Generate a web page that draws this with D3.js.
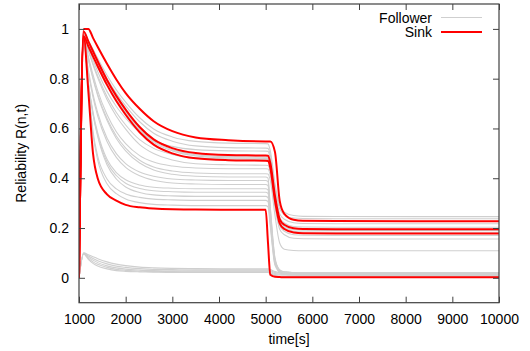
<!DOCTYPE html>
<html><head><meta charset="utf-8">
<script src="https://cdn.jsdelivr.net/npm/d3@7"></script>
<style>
body{margin:0;background:#fff}
svg{display:block}
text{font-family:"Liberation Sans",Arial,Helvetica,sans-serif;fill:#000}
</style>
</head><body>
<svg id="chart" width="530" height="351"></svg>
<script>
// time samples [s]
const times = [1000, 1100, 1200, 1300, 1400, 1600, 1800, 2000, 2300, 2600, 3000, 3500, 4200, 5000, 5050, 5100, 5200, 5300, 5400, 5600, 5800, 6500, 10000];
const xTickValues = [1000, 2000, 3000, 4000, 5000, 6000, 7000, 8000, 9000, 10000];
const yTickValues = [0, 0.2, 0.4, 0.6, 0.8, 1];
const legendLabels = ["Follower", "Sink"];

// Follower nodes (grey)
const followerSeries = [
  [0, 0.99, 0.954, 0.918, 0.882, 0.814, 0.755, 0.706, 0.643, 0.598, 0.566, 0.548, 0.541, 0.539, 0.538, 0.510, 0.378, 0.287, 0.264, 0.250, 0.247, 0.246, 0.246],
  [0, 0.98, 0.943, 0.907, 0.870, 0.801, 0.741, 0.691, 0.627, 0.581, 0.549, 0.530, 0.523, 0.521, 0.520, 0.493, 0.365, 0.277, 0.254, 0.240, 0.238, 0.237, 0.237],
  [0, 0.98, 0.928, 0.876, 0.829, 0.749, 0.688, 0.641, 0.584, 0.551, 0.528, 0.515, 0.510, 0.509, 0.508, 0.480, 0.348, 0.258, 0.235, 0.221, 0.218, 0.217, 0.217],
  [0, 0.98, 0.940, 0.901, 0.861, 0.787, 0.723, 0.668, 0.599, 0.549, 0.515, 0.495, 0.487, 0.485, 0.484, 0.457, 0.330, 0.242, 0.220, 0.206, 0.204, 0.203, 0.203],
  [0, 0.975, 0.935, 0.896, 0.856, 0.782, 0.718, 0.663, 0.594, 0.544, 0.510, 0.490, 0.482, 0.480, 0.479, 0.451, 0.321, 0.231, 0.207, 0.193, 0.191, 0.190, 0.190],
  [0, 0.97, 0.916, 0.861, 0.812, 0.728, 0.664, 0.614, 0.555, 0.520, 0.496, 0.482, 0.477, 0.476, 0.475, 0.447, 0.315, 0.224, 0.201, 0.187, 0.184, 0.183, 0.183],
  [0, 0.97, 0.913, 0.856, 0.804, 0.716, 0.649, 0.597, 0.535, 0.499, 0.473, 0.458, 0.454, 0.452, 0.451, 0.424, 0.297, 0.209, 0.187, 0.173, 0.171, 0.170, 0.170],
  [0, 0.97, 0.890, 0.816, 0.752, 0.656, 0.587, 0.539, 0.491, 0.465, 0.449, 0.441, 0.438, 0.438, 0.437, 0.410, 0.283, 0.195, 0.173, 0.159, 0.157, 0.156, 0.156],
  [0, 0.96, 0.879, 0.803, 0.738, 0.640, 0.570, 0.521, 0.472, 0.445, 0.429, 0.421, 0.418, 0.418, 0.417, 0.390, 0.250, 0.140, 0.115, 0.110, 0.109, 0.109, 0.109],
  [0, 0.96, 0.877, 0.799, 0.732, 0.633, 0.560, 0.510, 0.461, 0.433, 0.416, 0.408, 0.405, 0.405, 0.400, 0.284, 0.080, 0.032, 0.024, 0.021, 0.020, 0.020, 0.020],
  [0, 0.96, 0.835, 0.738, 0.664, 0.562, 0.499, 0.459, 0.425, 0.408, 0.397, 0.393, 0.391, 0.391, 0.386, 0.274, 0.075, 0.027, 0.019, 0.016, 0.015, 0.015, 0.015],
  [0, 0.95, 0.824, 0.726, 0.651, 0.548, 0.484, 0.444, 0.410, 0.392, 0.381, 0.377, 0.375, 0.375, 0.370, 0.262, 0.070, 0.032, 0.024, 0.021, 0.020, 0.020, 0.020],
  [0, 0.95, 0.784, 0.666, 0.583, 0.476, 0.423, 0.394, 0.373, 0.364, 0.360, 0.358, 0.358, 0.358, 0.353, 0.250, 0.065, 0.024, 0.016, 0.013, 0.012, 0.012, 0.012],
  [0, 0.95, 0.780, 0.659, 0.574, 0.465, 0.411, 0.380, 0.359, 0.350, 0.346, 0.344, 0.344, 0.344, 0.339, 0.241, 0.065, 0.030, 0.022, 0.019, 0.018, 0.018, 0.018],
  [0, 0.96, 0.783, 0.656, 0.568, 0.454, 0.397, 0.365, 0.343, 0.333, 0.329, 0.327, 0.327, 0.327, 0.322, 0.229, 0.060, 0.022, 0.014, 0.011, 0.010, 0.010, 0.010],
  [0, 0.97, 0.772, 0.588, 0.489, 0.397, 0.357, 0.337, 0.323, 0.316, 0.313, 0.311, 0.311, 0.311, 0.306, 0.218, 0.055, 0.027, 0.019, 0.016, 0.015, 0.015, 0.015],
  [0, 0.97, 0.766, 0.576, 0.474, 0.378, 0.338, 0.317, 0.302, 0.295, 0.292, 0.290, 0.290, 0.290, 0.285, 0.203, 0.050, 0.022, 0.014, 0.011, 0.010, 0.010, 0.010],
  [0, 0.100, 0.093, 0.085, 0.077, 0.064, 0.055, 0.049, 0.043, 0.040, 0.038, 0.037, 0.036, 0.036, 0.036, 0.033, 0.025, 0.021, 0.020, 0.019, 0.019, 0.019, 0.019],
  [0, 0.099, 0.088, 0.078, 0.069, 0.056, 0.047, 0.042, 0.037, 0.034, 0.033, 0.032, 0.032, 0.032, 0.032, 0.029, 0.021, 0.018, 0.017, 0.016, 0.016, 0.016, 0.016],
  [0, 0.098, 0.083, 0.071, 0.061, 0.048, 0.040, 0.035, 0.031, 0.029, 0.028, 0.028, 0.028, 0.028, 0.028, 0.025, 0.017, 0.014, 0.013, 0.013, 0.013, 0.013, 0.013],
  [0, 0.097, 0.078, 0.064, 0.054, 0.042, 0.034, 0.030, 0.027, 0.025, 0.025, 0.024, 0.024, 0.024, 0.024, 0.020, 0.013, 0.011, 0.010, 0.010, 0.010, 0.010, 0.010],
  [0, 0.096, 0.074, 0.058, 0.047, 0.036, 0.029, 0.026, 0.024, 0.023, 0.022, 0.022, 0.022, 0.022, 0.022, 0.017, 0.009, 0.006, 0.005, 0.005, 0.005, 0.005, 0.005]
];

// Sink nodes (red)
const sinkSeries = [
  [0, 1.0, 1.0, 0.964, 0.928, 0.860, 0.797, 0.742, 0.679, 0.629, 0.589, 0.564, 0.553, 0.548, 0.548, 0.548, 0.505, 0.310, 0.257, 0.233, 0.229, 0.228, 0.227],
  [0, 0.99, 0.950, 0.910, 0.870, 0.795, 0.731, 0.676, 0.606, 0.556, 0.521, 0.501, 0.493, 0.491, 0.490, 0.461, 0.328, 0.236, 0.213, 0.199, 0.196, 0.195, 0.195],
  [0, 0.97, 0.930, 0.890, 0.850, 0.775, 0.710, 0.655, 0.585, 0.535, 0.500, 0.480, 0.4725, 0.470, 0.469, 0.441, 0.309, 0.219, 0.196, 0.182, 0.179, 0.178, 0.178],
  [0, 0.97, 0.750, 0.500, 0.400, 0.335, 0.310, 0.293, 0.283, 0.278, 0.275, 0.274, 0.273, 0.273, 0.140, 0.012, 0.004, 0.003, 0.002, 0.002, 0.002, 0.002, 0.002]
];

const svg = d3.select("#chart");
const L = 79, R = 499, T = 4, B = 302.7;
const x = d3.scaleLinear().domain([1000, 10000]).range([L, R]);
const y = d3.scaleLinear().domain([-0.1, 1.1]).range([B, T]);

const grey = "#cfcfcf", red = "#ff0000", axisCol = "#404040";

const plot = svg.append("g");
const clip = svg.append("clipPath").attr("id", "clp").append("rect")
  .attr("x", L).attr("y", T).attr("width", R - L).attr("height", B - T);
const line = d3.line().x((d, i) => x(times[i])).y(d => y(d)).curve(d3.curveMonotoneX);

plot.append("g").attr("clip-path", "url(#clp)").selectAll("path.f").data(followerSeries).join("path")
  .attr("d", line).attr("fill", "none").attr("stroke", grey).attr("stroke-width", 1.1);
plot.append("g").attr("clip-path", "url(#clp)").selectAll("path.s").data(sinkSeries).join("path")
  .attr("d", line).attr("fill", "none").attr("stroke", red).attr("stroke-width", 2).attr("stroke-linejoin", "round");

// axes (ticks pointing inward)
const fmtY = d => String(d);
const styleAxis = g => {
  g.select(".domain").remove();
  g.selectAll(".tick line").attr("stroke", axisCol);
  g.selectAll(".tick text").attr("font-size", 14).attr("fill", "#000")
    .attr("font-family", '"Liberation Sans",Arial,sans-serif');
};
svg.append("g").attr("transform", `translate(0,${B})`)
  .call(d3.axisBottom(x).tickValues(xTickValues).tickSizeInner(-6).tickSizeOuter(0).tickPadding(11).tickFormat(d3.format("d")))
  .call(styleAxis);
svg.append("g").attr("transform", `translate(0,${T})`)
  .call(d3.axisTop(x).tickValues(xTickValues).tickSizeInner(-6).tickSizeOuter(0).tickFormat(""))
  .call(styleAxis);
svg.append("g").attr("transform", `translate(${L},0)`)
  .call(d3.axisLeft(y).tickValues(yTickValues).tickSizeInner(-6).tickSizeOuter(0).tickPadding(10).tickFormat(fmtY))
  .call(styleAxis);
svg.append("g").attr("transform", `translate(${R},0)`)
  .call(d3.axisRight(y).tickValues(yTickValues).tickSizeInner(-6).tickSizeOuter(0).tickFormat(""))
  .call(styleAxis);

svg.append("rect").attr("x", L).attr("y", T).attr("width", R - L).attr("height", B - T)
  .attr("fill", "none").attr("stroke", axisCol).attr("stroke-width", 1.2);

// axis titles
svg.append("text").attr("x", (L + R) / 2).attr("y", 344).attr("text-anchor", "middle")
  .attr("font-size", 14).text("time[s]");
svg.append("text").attr("transform", `translate(26,${(T + B) / 2}) rotate(-90)`)
  .attr("text-anchor", "middle").attr("font-size", 14).text("Reliability R(n,t)");

// legend
const leg = svg.append("g");
[[legendLabels[0], grey, 1.1, 17.5], [legendLabels[1], red, 2, 32]].forEach(([lab, col, w, yy]) => {
  leg.append("text").attr("x", 432).attr("y", yy + 5).attr("text-anchor", "end")
    .attr("font-size", 14).text(lab);
  leg.append("line").attr("x1", 441).attr("x2", 482).attr("y1", yy).attr("y2", yy)
    .attr("stroke", col).attr("stroke-width", w);
});
</script>
</body></html>
